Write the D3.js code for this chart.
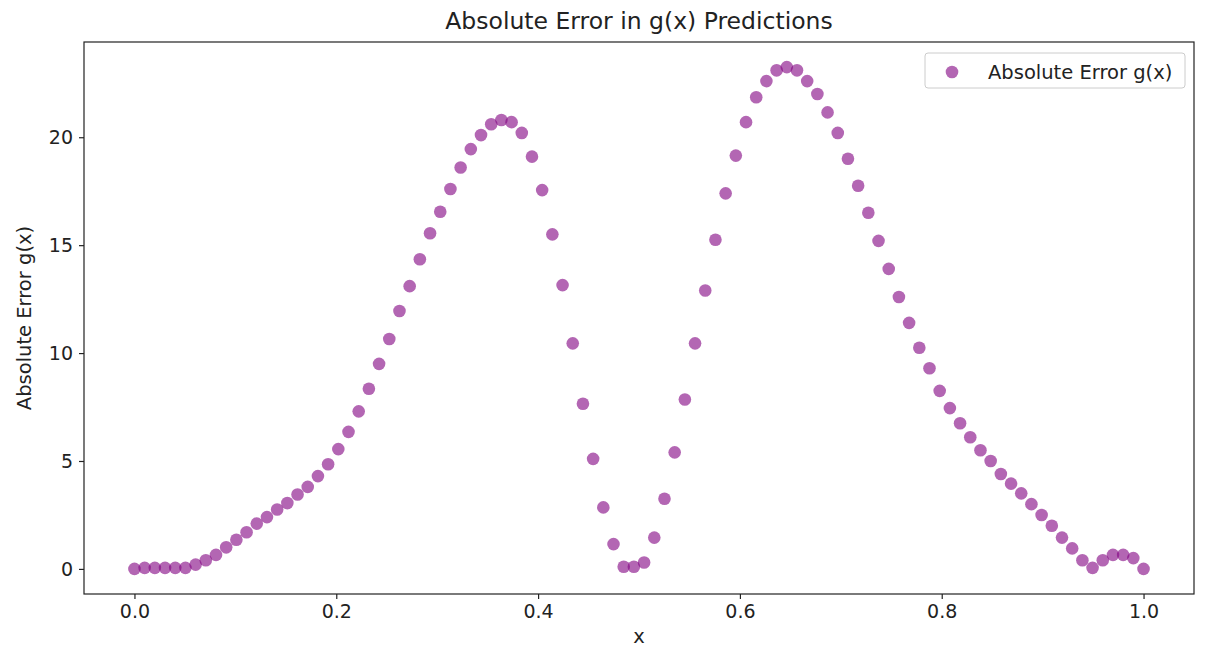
<!DOCTYPE html>
<html>
<head>
<meta charset="utf-8">
<script src="https://cdn.jsdelivr.net/npm/d3@7"></script>
<style>
  body { margin: 0; background: #fff; }
  svg text { font-family: "DejaVu Sans", sans-serif; fill: #222; }
</style>
</head>
<body>
<svg id="chart"></svg>
<script>
// absolute error of g(x), 100 samples on [0, 1]
var errValues = [
  0.0, 0.05, 0.05, 0.05, 0.05, 0.05, 0.2, 0.4, 0.65, 1.0,
  1.35, 1.7, 2.1, 2.4, 2.75, 3.05, 3.45, 3.8, 4.3, 4.85,
  5.55, 6.35, 7.3, 8.35, 9.5, 10.65, 11.95, 13.1, 14.35, 15.55,
  16.55, 17.6, 18.6, 19.45, 20.1, 20.6, 20.8, 20.7, 20.2, 19.1,
  17.55, 15.5, 13.15, 10.45, 7.65, 5.1, 2.85, 1.15, 0.1, 0.1,
  0.3, 1.45, 3.25, 5.4, 7.85, 10.45, 12.9, 15.25, 17.4, 19.15,
  20.7, 21.85, 22.6, 23.1, 23.25, 23.1, 22.6, 22.0, 21.15, 20.2,
  19.0, 17.75, 16.5, 15.2, 13.9, 12.6, 11.4, 10.25, 9.3, 8.25,
  7.45, 6.75, 6.1, 5.5, 5.0, 4.4, 3.95, 3.5, 3.0, 2.5,
  2.0, 1.45, 0.95, 0.4, 0.05, 0.4, 0.65, 0.65, 0.5, 0.0
];
var xValues = errValues.map(function (d, i) { return i / (errValues.length - 1); });
var xTicks = [0, 0.2, 0.4, 0.6, 0.8, 1.0];
var yTicks = [0, 5, 10, 15, 20];

var width = 1208, height = 651;
var margin = { top: 42, right: 14, bottom: 57, left: 84 };
var innerW = width - margin.left - margin.right;
var innerH = height - margin.top - margin.bottom;

var svg = d3.select("#chart").attr("width", width).attr("height", height);
var g = svg.append("g").attr("transform", "translate(" + margin.left + "," + margin.top + ")");

var yMax = d3.max(errValues);
var x = d3.scaleLinear().domain([-0.05, 1.05]).range([0, innerW]);
var y = d3.scaleLinear().domain([-0.05 * yMax, 1.05 * yMax]).range([innerH, 0]);

var xAxis = g.append("g")
  .attr("transform", "translate(0," + innerH + ")")
  .call(d3.axisBottom(x).tickValues(xTicks).tickFormat(d3.format(".1f")).tickSizeOuter(0).tickSize(5).tickPadding(6));
var yAxis = g.append("g")
  .call(d3.axisLeft(y).tickValues(yTicks).tickFormat(d3.format("d")).tickSizeOuter(0).tickSize(5).tickPadding(6));
[xAxis, yAxis].forEach(function (a) {
  a.select(".domain").remove();
  a.selectAll("line").attr("stroke", "#222").attr("stroke-width", 1.2);
  a.selectAll("text").attr("font-size", 19).attr("font-family", "DejaVu Sans").attr("fill", "#222");
});

// frame
g.append("rect")
  .attr("width", innerW).attr("height", innerH)
  .attr("fill", "none").attr("stroke", "#222").attr("stroke-width", 1.2);

g.selectAll("circle.pt")
  .data(errValues)
  .enter().append("circle")
  .attr("class", "pt")
  .attr("cx", function (d, i) { return x(xValues[i]); })
  .attr("cy", function (d) { return y(d); })
  .attr("r", 6.3)
  .attr("fill", "purple")
  .attr("fill-opacity", 0.6);

// title and axis labels
svg.append("text")
  .attr("x", margin.left + innerW / 2).attr("y", 29)
  .attr("text-anchor", "middle").attr("font-size", 23.5)
  .text("Absolute Error in g(x) Predictions");
svg.append("text")
  .attr("x", margin.left + innerW / 2).attr("y", 643)
  .attr("text-anchor", "middle").attr("font-size", 19.5)
  .text("x");
svg.append("text")
  .attr("transform", "translate(31," + (margin.top + innerH / 2) + ") rotate(-90)")
  .attr("text-anchor", "middle").attr("font-size", 19.5)
  .text("Absolute Error g(x)");

// legend
var legend = g.append("g").attr("transform", "translate(" + (innerW - 269) + ",11)");
legend.append("rect")
  .attr("width", 260).attr("height", 35).attr("rx", 3)
  .attr("fill", "#fff").attr("fill-opacity", 0.8)
  .attr("stroke", "#ccc");
legend.append("circle")
  .attr("cx", 27).attr("cy", 19).attr("r", 6.3)
  .attr("fill", "purple").attr("fill-opacity", 0.6);
legend.append("text")
  .attr("x", 63).attr("y", 26).attr("font-size", 19.5)
  .text("Absolute Error g(x)");
</script>
</body>
</html>
